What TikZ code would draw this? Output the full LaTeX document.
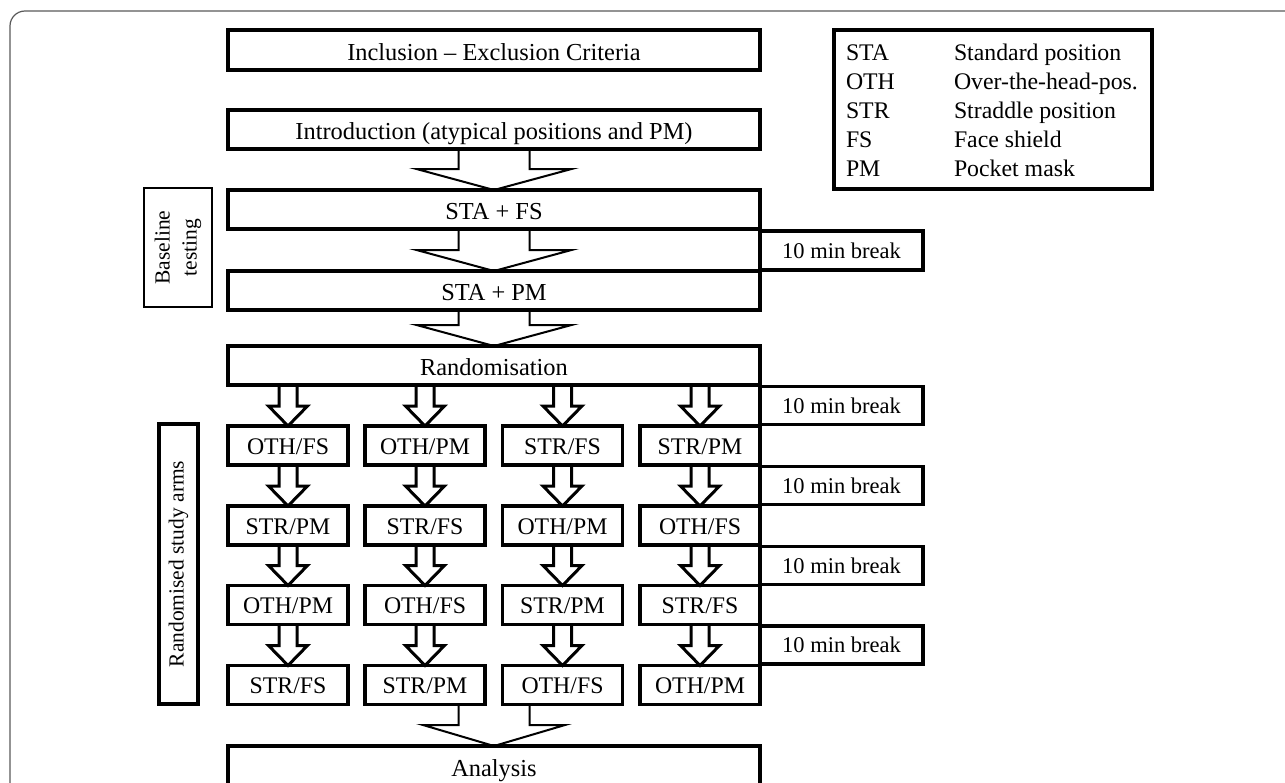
\documentclass[tikz,border=0pt]{standalone}
\usepackage{fontspec}
\setmainfont{Liberation Serif}
\usetikzlibrary{calc}
\newcommand\blockarrow[6]{% style, source anchor, target anchor, shaft half width, head half width, head height
  \draw[#1] let \p1=(#2), \p2=(#3) in
    (\x2-#4pt,\y1) -- (\x2-#4pt,\y2+#6pt) -- (\x2-#5pt,\y2+#6pt) -- (\x2,\y2)
    -- (\x2+#5pt,\y2+#6pt) -- (\x2+#4pt,\y2+#6pt) -- (\x2+#4pt,\y1);}
\tikzset{
  every node/.style={inner sep=0pt, outer sep=0pt},
  mainbox/.style={draw, line width=3.5pt, minimum width=532pt, minimum height=40pt,
    font=\fontsize{24.4}{29}\selectfont, text height=20pt, text depth=0pt},
  armbox/.style={draw, line width=3.5pt, minimum width=120pt, minimum height=39pt,
    font=\fontsize{23.8}{28}\selectfont, text height=17pt, text depth=0pt},
  brkbox/.style={draw, line width=3.2pt, minimum width=163pt, minimum height=38pt,
    font=\fontsize{22.5}{27}\selectfont, text height=15pt, text depth=0pt},
  legbox/.style={draw, line width=3.5pt},
  legtext/.style={anchor=base west, font=\fontsize{23.8}{28}\selectfont},
  sidebox/.style={draw, rotate=90, align=center, font=\fontsize{21.5}{27}\selectfont},
  bigarr/.style={line width=2pt, line join=miter},
  smallarr/.style={line width=3pt, line join=miter},
  framebox/.style={draw=black!65, line width=1.2pt, rounded corners=15pt}
}
\begin{document}
\begin{tikzpicture}[x=1pt,y=1pt]
\useasboundingbox (0,0) rectangle (1285,-782);
\draw[framebox] (10,-11) rectangle (1330,-830);

% main column
\node[mainbox] (incl)  at (494,-50)    {Inclusion – Exclusion Criteria};
\node[mainbox, minimum height=39pt] (intro) at (494,-129.5) {Introduction (atypical positions and PM)};
\node[mainbox, minimum height=39pt] (stafs) at (494,-209.5) {STA + FS};
\node[mainbox, minimum height=39pt] (stapm) at (494,-290.5) {STA + PM};
\node[mainbox, minimum height=39pt] (rand)  at (494,-365.5) {Randomisation};
\node[mainbox, minimum height=44pt, text height=17pt] (ana) at (494,-768) {Analysis};

% study arms
\node[armbox] (r1c1) at (288,-445.5)   {OTH/FS};
\node[armbox] (r1c2) at (425,-445.5)   {OTH/PM};
\node[armbox] (r1c3) at (562.5,-445.5) {STR/FS};
\node[armbox] (r1c4) at (700,-445.5)   {STR/PM};
\node[armbox] (r2c1) at (288,-525.5)   {STR/PM};
\node[armbox] (r2c2) at (425,-525.5)   {STR/FS};
\node[armbox] (r2c3) at (562.5,-525.5) {OTH/PM};
\node[armbox] (r2c4) at (700,-525.5)   {OTH/FS};
\node[armbox] (r3c1) at (288,-605)     {OTH/PM};
\node[armbox] (r3c2) at (425,-605)     {OTH/FS};
\node[armbox] (r3c3) at (562.5,-605)   {STR/PM};
\node[armbox] (r3c4) at (700,-605)     {STR/FS};
\node[armbox] (r4c1) at (288,-685)     {STR/FS};
\node[armbox] (r4c2) at (425,-685)     {STR/PM};
\node[armbox] (r4c3) at (562.5,-685)   {OTH/FS};
\node[armbox] (r4c4) at (700,-685)     {OTH/PM};

% breaks
\node[brkbox, minimum height=39pt] (brk0) at (841.5,-250.5) {10 min break};
\node[brkbox] (brk1) at (841.5,-405.5) {10 min break};
\node[brkbox] (brk2) at (841.5,-485.5) {10 min break};
\node[brkbox] (brk3) at (841.5,-565.5) {10 min break};
\node[brkbox] (brk4) at (841.5,-645)   {10 min break};

% side labels
\node[sidebox, line width=2.5pt, minimum width=119pt, minimum height=68pt] (base) at (178,-247.5) {Baseline\\testing};
\node[sidebox, line width=3.2pt, minimum width=280pt, minimum height=39pt] (arms) at (178.5,-564) {Randomised study arms};

% legend
\node[legbox, minimum width=318pt, minimum height=159pt] (leg) at (993,-109.5) {};
\node[legtext] (la1) at (846,-60)  {STA};
\node[legtext] (la2) at (846,-89)  {OTH};
\node[legtext] (la3) at (846,-118) {STR};
\node[legtext] (la4) at (846,-147) {FS};
\node[legtext] (la5) at (846,-176) {PM};
\node[legtext] (ld1) at (954,-60)  {Standard position};
\node[legtext] (ld2) at (954,-89)  {Over-the-head-pos.};
\node[legtext] (ld3) at (954,-118) {Straddle position};
\node[legtext] (ld4) at (954,-147) {Face shield};
\node[legtext] (ld5) at (954,-176) {Pocket mask};

% big arrows
\blockarrow{bigarr}{intro.south}{stafs.north}{35.5}{77.5}{21}
\blockarrow{bigarr}{stafs.south}{stapm.north}{35.5}{77.5}{21}
\blockarrow{bigarr}{stapm.south}{rand.north}{35.5}{77.5}{21}
\blockarrow{bigarr}{r4c2.south}{ana.north}{35.5}{71}{21}

% small arrows
\foreach \c in {1,2,3,4}{
  \blockarrow{smallarr}{rand.south}{r1c\c.north}{9}{19.5}{20}
  \blockarrow{smallarr}{r1c\c.south}{r2c\c.north}{9}{19.5}{20}
  \blockarrow{smallarr}{r2c\c.south}{r3c\c.north}{9}{19.5}{20}
  \blockarrow{smallarr}{r3c\c.south}{r4c\c.north}{9}{19.5}{20}
}
\end{tikzpicture}
\end{document}
